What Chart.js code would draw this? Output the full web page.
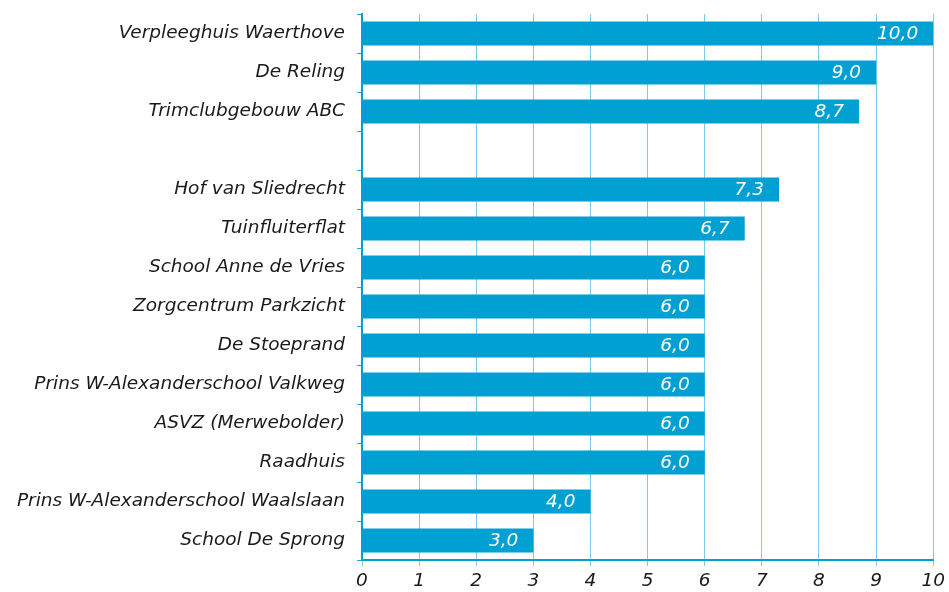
<!DOCTYPE html>
<html>
<head>
<meta charset="utf-8">
<script src="https://cdn.jsdelivr.net/npm/chart.js@4"></script>
<style>
  body { margin: 0; background: #fff; }
  #wrap { width: 949px; height: 592px; }
</style>
</head>
<body>
<div id="wrap"><canvas id="myChart" width="949" height="592"></canvas></div>
<script>
const locations = [
  'Verpleeghuis Waerthove',
  'De Reling',
  'Trimclubgebouw ABC',
  '',
  'Hof van Sliedrecht',
  'Tuinfluiterflat',
  'School Anne de Vries',
  'Zorgcentrum Parkzicht',
  'De Stoeprand',
  'Prins W-Alexanderschool Valkweg',
  'ASVZ (Merwebolder)',
  'Raadhuis',
  'Prins W-Alexanderschool Waalslaan',
  'School De Sprong'
];
const scores = [10, 9, 8.7, null, 7.3, 6.7, 6, 6, 6, 6, 6, 6, 4, 3];
const xTicks = [0, 1, 2, 3, 4, 5, 6, 7, 8, 9, 10];

const barColor = '#00a0d2';
const fontFamily = '"DejaVu Sans", sans-serif';

// white value labels inside the end of each bar
const valueLabels = {
  id: 'valueLabels',
  afterDatasetsDraw(chart) {
    const ctx = chart.ctx;
    const meta = chart.getDatasetMeta(0);
    ctx.save();
    ctx.font = 'italic 18.5px ' + fontFamily;
    ctx.fillStyle = '#ffffff';
    ctx.textAlign = 'right';
    ctx.textBaseline = 'middle';
    meta.data.forEach((bar, i) => {
      const v = scores[i];
      if (v === null) { return; }
      ctx.fillText(v.toFixed(1).replace('.', ','), bar.x - 15, bar.y + 1);
    });
    ctx.restore();
  }
};

function initChart(target) {
  const data = {
    labels: locations,
    datasets: [{
      data: scores,
      backgroundColor: barColor,
      borderWidth: 0,
      barPercentage: 0.62,
      categoryPercentage: 1
    }]
  };

  const config = {
    type: 'bar',
    data: data,
    plugins: [valueLabels],
    options: {
      indexAxis: 'y',
      responsive: false,
      animation: false,
      layout: { padding: { top: 14, right: 13, bottom: 0, left: 0 } },
      plugins: { legend: { display: false }, tooltip: { enabled: false } },
      scales: {
        x: {
          min: 0,
          max: 10,
          afterBuildTicks: (axis) => { axis.ticks = xTicks.map((v) => ({ value: v })); },
          afterFit: (axis) => { axis.height = 32; },
          grid: { color: '#7ccbe9', lineWidth: 1, tickLength: 6, drawTicks: true },
          border: { color: barColor, width: 2 },
          ticks: {
            color: '#1a1a1a',
            font: { family: fontFamily, size: 18.5, style: 'italic' },
            padding: 4,
            maxRotation: 0
          }
        },
        y: {
          afterFit: (axis) => {
            axis.width = 362;
            axis.paddingTop = 0;
            axis.paddingBottom = 0;
          },
          grid: { offset: true, drawOnChartArea: false, color: '#29a9da', tickLength: 5 },
          border: { color: barColor, width: 2 },
          ticks: {
            color: '#1a1a1a',
            font: { family: fontFamily, size: 18.5, style: 'italic' },
            padding: 12,
            autoSkip: false
          }
        }
      }
    }
  };

  return new Chart(target, config);
}

document.addEventListener('DOMContentLoaded', () => {
  initChart(document.querySelector('#myChart'));
});
</script>
</body>
</html>
